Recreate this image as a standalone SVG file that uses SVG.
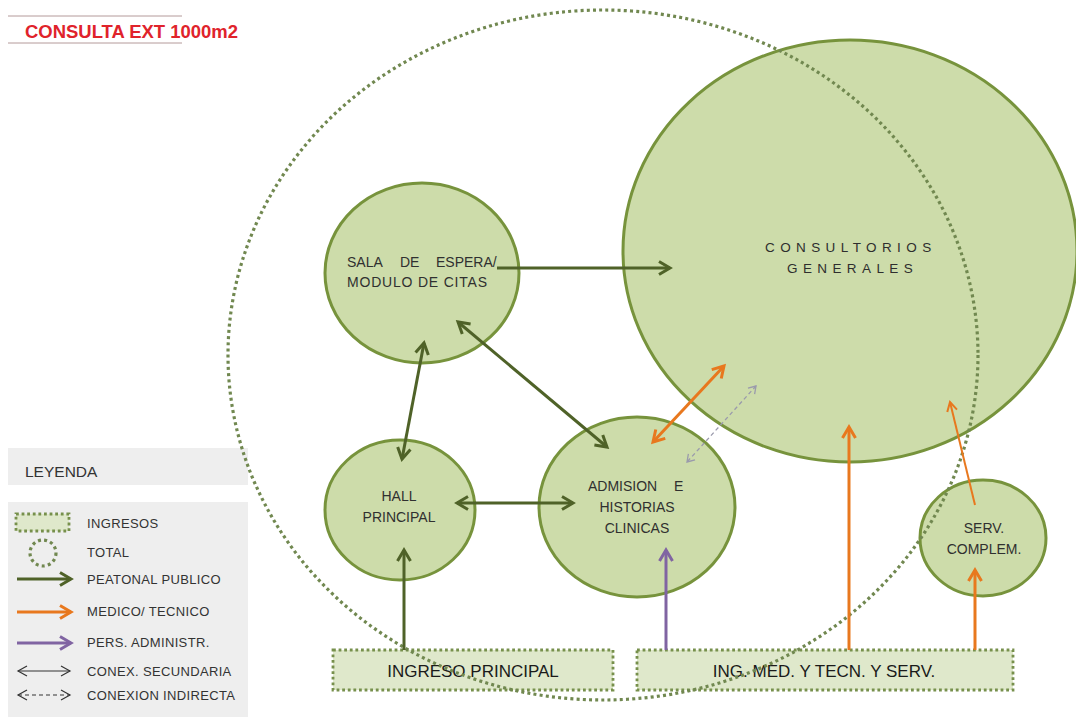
<svg xmlns="http://www.w3.org/2000/svg" width="1076" height="719" viewBox="0 0 1076 719">
<style>
  text { font-family: "Liberation Sans", Arial, sans-serif; }
  .node { fill: #cddcaa; stroke: #77933c; stroke-width: 3; }
  .ing { fill: #dfe8cb; stroke: #77904c; stroke-width: 2.8; stroke-dasharray: 2.8 2.8; }
  .total { fill: none; stroke: #718850; stroke-width: 3.2; stroke-dasharray: 3 3.2; }
  .lbl { fill: #303030; font-size: 14px; }
  .leg { fill: #333333; font-size: 13px; letter-spacing: 0.35px; }
  .big { fill: #1a1a1a; font-size: 17px; text-anchor: middle; }
  .g { stroke: #4f6228; stroke-width: 3; fill: none; }
  .o { stroke: #e8781e; stroke-width: 3; fill: none; }
  .o2 { stroke: #e8781e; stroke-width: 2; fill: none; }
  .p { stroke: #8064a2; stroke-width: 3; fill: none; }
  .k { stroke: #333333; stroke-width: 1.2; fill: none; }
  .d { stroke: #9a9aac; stroke-width: 1.3; fill: none; stroke-dasharray: 4 3; }
</style>
<defs>
  <marker id="ag" viewBox="0 0 18 18" refX="13" refY="8" markerWidth="18" markerHeight="18" markerUnits="userSpaceOnUse" orient="auto-start-reverse" overflow="visible">
    <path d="M2,1.5 L13,8 L2,14.5" fill="none" stroke="#4f6228" stroke-width="3"/>
  </marker>
  <marker id="ao" viewBox="0 0 18 18" refX="13" refY="8" markerWidth="18" markerHeight="18" markerUnits="userSpaceOnUse" orient="auto-start-reverse" overflow="visible">
    <path d="M2,1.5 L13,8 L2,14.5" fill="none" stroke="#e8781e" stroke-width="3"/>
  </marker>
  <marker id="ao2" viewBox="0 0 14 14" refX="11" refY="6" markerWidth="14" markerHeight="14" markerUnits="userSpaceOnUse" orient="auto-start-reverse" overflow="visible">
    <path d="M2,1 L11,6 L2,11" fill="none" stroke="#e8781e" stroke-width="2"/>
  </marker>
  <marker id="ap" viewBox="0 0 18 18" refX="13" refY="8" markerWidth="18" markerHeight="18" markerUnits="userSpaceOnUse" orient="auto-start-reverse" overflow="visible">
    <path d="M2,1.5 L13,8 L2,14.5" fill="none" stroke="#8064a2" stroke-width="3"/>
  </marker>
  <marker id="ak" viewBox="0 0 14 14" refX="11" refY="6" markerWidth="14" markerHeight="14" markerUnits="userSpaceOnUse" orient="auto-start-reverse" overflow="visible">
    <path d="M2,1 L11,6 L2,11" fill="none" stroke="#333333" stroke-width="1.2"/>
  </marker>
  <marker id="ad" viewBox="0 0 14 14" refX="10" refY="6" markerWidth="14" markerHeight="14" markerUnits="userSpaceOnUse" orient="auto-start-reverse" overflow="visible">
    <path d="M3,1.5 L10,6 L3,10.5" fill="none" stroke="#9a9aac" stroke-width="1.3"/>
  </marker>
</defs>

<rect width="1076" height="719" fill="#ffffff"/>

<g id="title">
  <line x1="8" y1="16" x2="182" y2="16" stroke="#b49a9a" stroke-width="1"/>
  <line x1="8" y1="43" x2="182" y2="43" stroke="#b49a9a" stroke-width="1"/>
  <text x="25" y="37.5" font-size="17.5" font-weight="bold" fill="#e0232b" textLength="213" lengthAdjust="spacingAndGlyphs">CONSULTA EXT 1000m2</text>
</g>

<g id="legend">
  <rect x="8" y="448" width="240" height="37" fill="#eeeeee"/>
  <text x="25" y="477" font-size="15.5" fill="#333333">LEYENDA</text>
  <rect x="8" y="502" width="240" height="215" fill="#eeeeee"/>
  <rect x="16" y="514" width="53" height="17" class="ing"/>
  <circle cx="43" cy="553" r="13" class="total"/>
  <line x1="17" y1="579" x2="71" y2="579" class="g" marker-end="url(#ag)"/>
  <line x1="17" y1="612" x2="71" y2="612" class="o" marker-end="url(#ao)"/>
  <line x1="17" y1="643" x2="71" y2="643" class="p" marker-end="url(#ap)"/>
  <line x1="18" y1="671" x2="70" y2="671" class="k" marker-start="url(#ak)" marker-end="url(#ak)"/>
  <line x1="18" y1="695" x2="70" y2="695" class="k" stroke-dasharray="4 3" marker-start="url(#ak)" marker-end="url(#ak)"/>
  <text class="leg" x="87" y="528">INGRESOS</text>
  <text class="leg" x="87" y="557">TOTAL</text>
  <text class="leg" x="87" y="584">PEATONAL PUBLICO</text>
  <text class="leg" x="87" y="616">MEDICO/ TECNICO</text>
  <text class="leg" x="87" y="647">PERS. ADMINISTR.</text>
  <text class="leg" x="87" y="676">CONEX. SECUNDARIA</text>
  <text class="leg" x="87" y="700">CONEXION INDIRECTA</text>
</g>

<g id="consultorios">
  <ellipse cx="850" cy="251" rx="227" ry="211" class="node"/>
  <text x="765" y="252" font-size="13.5" letter-spacing="5.4" fill="#2e2e2e">CONSULTORIOS</text>
  <text x="787" y="273" font-size="13.5" letter-spacing="5.4" fill="#2e2e2e">GENERALES</text>
</g>

<g id="sala">
  <ellipse cx="422" cy="273" rx="97" ry="90" class="node"/>
  <text class="lbl" y="267"><tspan x="347">SALA</tspan><tspan x="400">DE</tspan><tspan x="436">ESPERA/</tspan></text>
  <text class="lbl" x="347" y="287" textLength="140" lengthAdjust="spacing">MODULO DE CITAS</text>
</g>

<g id="hall">
  <ellipse cx="400" cy="510" rx="75" ry="70" class="node"/>
  <text class="lbl" x="399" y="501" font-size="13.5" text-anchor="middle">HALL</text>
  <text class="lbl" x="399" y="522" font-size="13.5" text-anchor="middle">PRINCIPAL</text>
</g>

<g id="admision">
  <ellipse cx="637" cy="507" rx="98" ry="90" class="node"/>
  <text class="lbl" y="491"><tspan x="588">ADMISION</tspan><tspan x="674">E</tspan></text>
  <text class="lbl" x="637" y="512" text-anchor="middle">HISTORIAS</text>
  <text class="lbl" x="637" y="533" text-anchor="middle">CLINICAS</text>
</g>

<g id="serv">
  <ellipse cx="983" cy="538" rx="63" ry="58" class="node"/>
  <text class="lbl" x="984" y="533" font-size="14.5" text-anchor="middle">SERV.</text>
  <text class="lbl" x="984" y="554" font-size="14.5" text-anchor="middle">COMPLEM.</text>
</g>

<g id="ingreso-principal">
  <rect x="333" y="650" width="280" height="40" class="ing"/>
  <text class="big" x="473" y="677">INGRESO PRINCIPAL</text>
</g>

<g id="ingreso-medico">
  <rect x="637" y="650" width="376" height="40" class="ing"/>
  <text class="big" x="824" y="677">ING. MED. Y TECN. Y SERV.</text>
</g>

<g id="total">
  <ellipse cx="603" cy="355" rx="375" ry="345" class="total"/>
</g>

<g id="connectors">
  <line x1="497" y1="268" x2="670" y2="268" class="g" marker-end="url(#ag)"/>
  <line x1="458" y1="322" x2="607" y2="447" class="g" marker-start="url(#ag)" marker-end="url(#ag)"/>
  <line x1="424" y1="343" x2="402" y2="459" class="g" marker-start="url(#ag)" marker-end="url(#ag)"/>
  <line x1="457" y1="503" x2="573" y2="503" class="g" marker-start="url(#ag)" marker-end="url(#ag)"/>
  <line x1="404" y1="650" x2="404" y2="550" class="g" marker-end="url(#ag)"/>
  <line x1="666" y1="650" x2="666" y2="550" class="p" marker-end="url(#ap)"/>
  <line x1="724" y1="366" x2="653" y2="442" class="o" marker-start="url(#ao)" marker-end="url(#ao)"/>
  <line x1="756" y1="386" x2="687" y2="462" class="d" marker-start="url(#ad)" marker-end="url(#ad)"/>
  <line x1="849" y1="650" x2="849" y2="427" class="o" marker-end="url(#ao)"/>
  <line x1="975" y1="505" x2="950" y2="402" class="o2" marker-end="url(#ao2)"/>
  <line x1="975" y1="650" x2="975" y2="570" class="o" marker-end="url(#ao)"/>
</g>
</svg>
